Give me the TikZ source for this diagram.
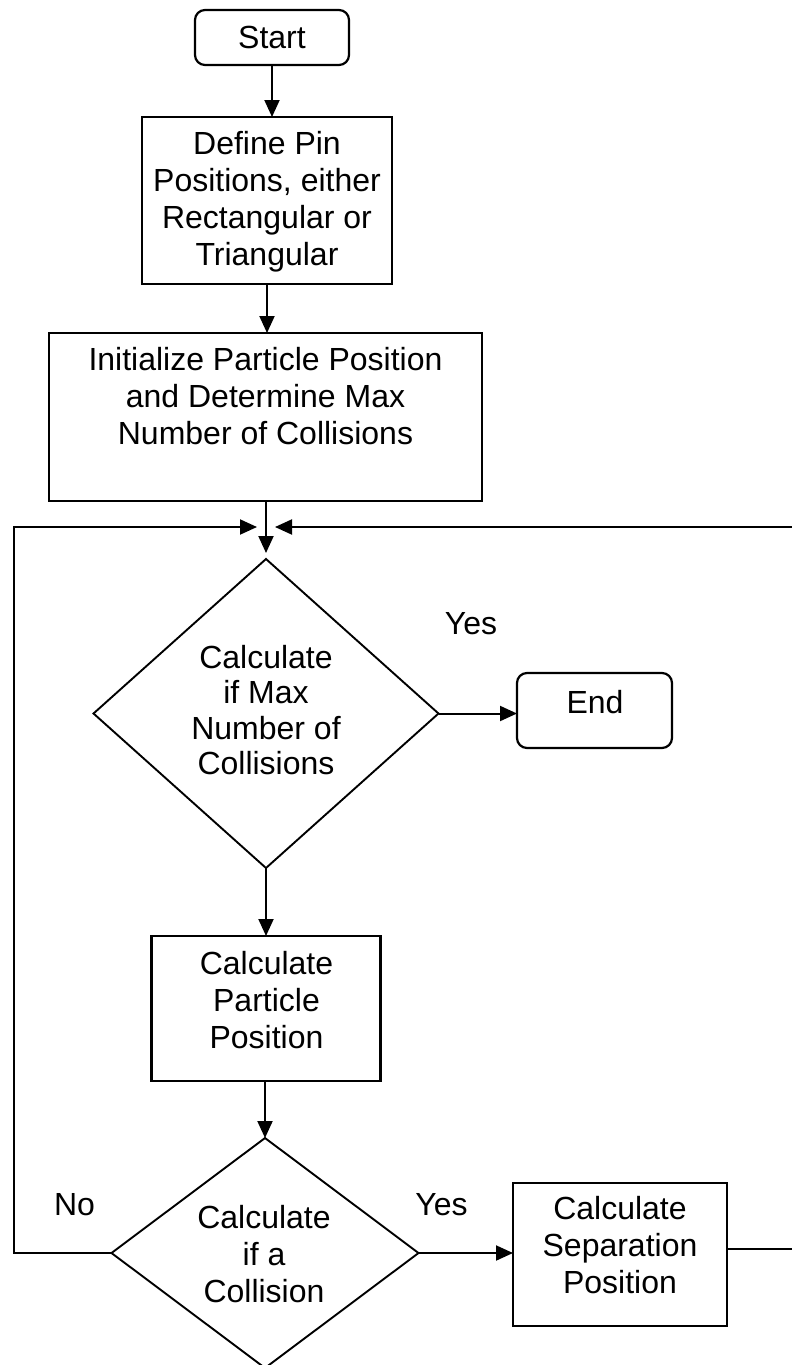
\documentclass[tikz,border=0pt]{standalone}
\usepackage{fontspec}
\setmainfont{Liberation Sans}
\usetikzlibrary{arrows.meta,shapes.geometric}
\begin{document}
\begin{tikzpicture}[x=1pt,y=-1pt,
  every node/.style={inner sep=0pt, outer sep=0pt},
  txt/.style={font=\fontsize{32}{37}\selectfont, align=center},
  proc/.style={draw, line width=2.2pt, rectangle},
  term/.style={draw, line width=2.2pt, rectangle, rounded corners=10pt,
               font=\fontsize{32}{37}\selectfont},
  dec/.style={draw, line width=1.9pt, diamond},
  link/.style={line width=2pt},
  arr/.style={link, -{Triangle[length=17pt,width=15pt]}}]
\useasboundingbox (0,0) rectangle (792,1365);

% process steps
\node[term, minimum width=154, minimum height=55] (start) at (272,37.5) {Start};

\node[proc, minimum width=250, minimum height=167] (define) at (267,200.5) {};
\node[txt] (define-t) at (267,202) {Define Pin\\Positions, either\\Rectangular or\\Triangular};

\node[proc, minimum width=433, minimum height=168] (init) at (265.5,417) {};
\node[txt] (init-t) at (265.5,396) {Initialize Particle Position\\and Determine Max\\Number of Collisions};

\node[dec, minimum width=345, minimum height=309] (d1) at (266,713.5) {};
\node[txt, font=\fontsize{32}{35.5}\selectfont] (d1-t) at (266,710) {Calculate\\if Max\\Number of\\Collisions};

\node[term, minimum width=155, minimum height=75] (end) at (594.5,710.5) {};
\node[txt] (end-t) at (595,702.5) {End};

\node[proc, minimum width=229, minimum height=145] (calc) at (266,1008.5) {};
\node[txt] (calc-t) at (266.5,1000) {Calculate\\Particle\\Position};

\node[dec, minimum width=307, minimum height=230] (d2) at (265,1253) {};
\node[txt] (d2-t) at (264,1254) {Calculate\\if a\\Collision};

\node[proc, minimum width=214, minimum height=143] (sep) at (620,1254.5) {};
\node[txt] (sep-t) at (620,1245) {Calculate\\Separation\\Position};

% branch labels
\node[txt] (yes1) at (471,624) {Yes};
\node[txt] (yes2) at (441.5,1205) {Yes};
\node[txt] (no) at (74.5,1205) {No};

% loop-back points
\coordinate (merge) at (266,553);
\coordinate (lin) at (257,527);
\coordinate (rin) at (275,527);
\coordinate (lb) at (14,1253);
\coordinate (lt) at (14,527);
\coordinate (redge) at (792,527);
\coordinate (redge2) at (792,1249);

% connectors
\draw[arr] (start.south) -- (start.south |- define.north);
\draw[arr] (define.south) -- (define.south |- init.north);
\draw[arr] (init.south -| merge) -- (merge);
\draw[arr] (d1.east) -- (d1.east -| end.west);
\draw[arr] (d1.south) -- (d1.south |- calc.north);
\draw[arr] (calc.south -| d2.north) -- (d2.north);
\draw[arr] (d2.east) -- (d2.east -| sep.west);
\draw[arr] (d2.west) -- (lb) -- (lt) -- (lin);
\draw[link] (redge2 -| sep.east) -- (redge2);
\draw[arr] (redge) -- (rin);
\end{tikzpicture}
\end{document}
